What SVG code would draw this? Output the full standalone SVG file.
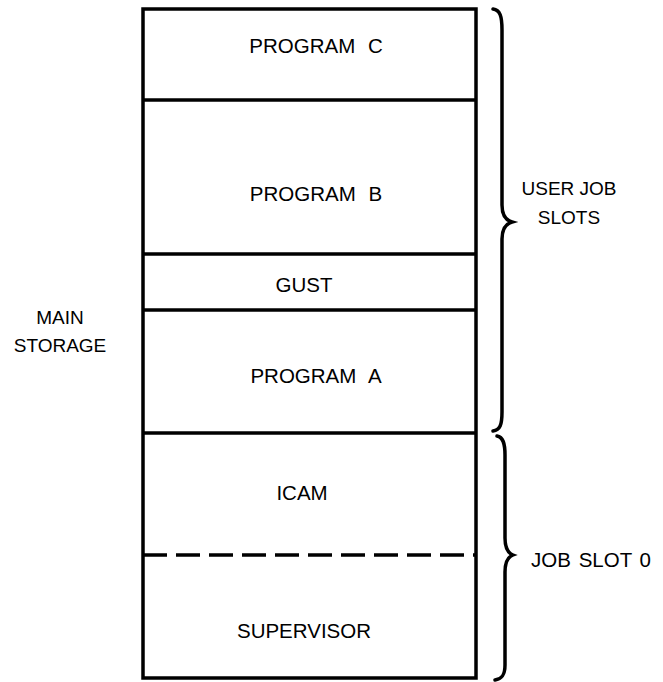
<svg xmlns="http://www.w3.org/2000/svg" width="663" height="682" viewBox="0 0 663 682">
<style>
.t{font-family:"Liberation Sans",Arial,sans-serif;font-size:20.5px;fill:#000;text-anchor:middle}
.s{font-size:19px}
.w{word-spacing:7px}
.l{stroke:#000;stroke-width:3.5;fill:none}
.d{stroke:#000;stroke-width:3.5;fill:none;stroke-dasharray:24 9}
.b{stroke:#000;stroke-width:3.5;fill:none;stroke-linecap:round}
</style>
<rect width="663" height="682" fill="#fff"/>
<g id="storage">
<rect class="l" x="143" y="9" width="333" height="669"/>
</g>
<g id="program-c"><text class="t w" x="316" y="53">PROGRAM C</text></g>
<g id="program-b"><line class="l" x1="143" y1="100" x2="476" y2="100"/><text class="t w" x="316" y="201">PROGRAM B</text></g>
<g id="gust"><line class="l" x1="143" y1="254" x2="476" y2="254"/><text class="t" x="304" y="292">GUST</text></g>
<g id="program-a"><line class="l" x1="143" y1="310" x2="476" y2="310"/><text class="t w" x="316" y="383">PROGRAM A</text></g>
<g id="icam"><line class="l" x1="143" y1="433" x2="476" y2="433"/><text class="t" x="302" y="500">ICAM</text></g>
<g id="supervisor"><text class="t" x="304" y="638">SUPERVISOR</text></g>
<g id="connectors">
<line class="d" x1="143" y1="555" x2="476" y2="555"/>
<path class="b" d="M493,9 C500,10 502,16 502,30 L502,205 C502,215 505,220 512,222 C505,224 502,229 502,239 L502,412 C502,425 500,430 493,431"/>
<path class="b" d="M497,436 C503,437 505,443 505,455 L505,538 C505,548 508,553 513,555 C508,557 505,562 505,572 L505,665 C505,675 502,679 495,680"/>
</g>
<g id="main-storage"><text class="t s" x="60" y="324">MAIN</text><text class="t s" x="60" y="352">STORAGE</text></g>
<g id="user-job-slots"><text class="t s" x="569" y="195">USER JOB</text><text class="t s" x="569" y="224">SLOTS</text></g>
<g id="job-slot-0"><text class="t" x="591" y="567" style="word-spacing:2px">JOB SLOT 0</text></g>
</svg>
